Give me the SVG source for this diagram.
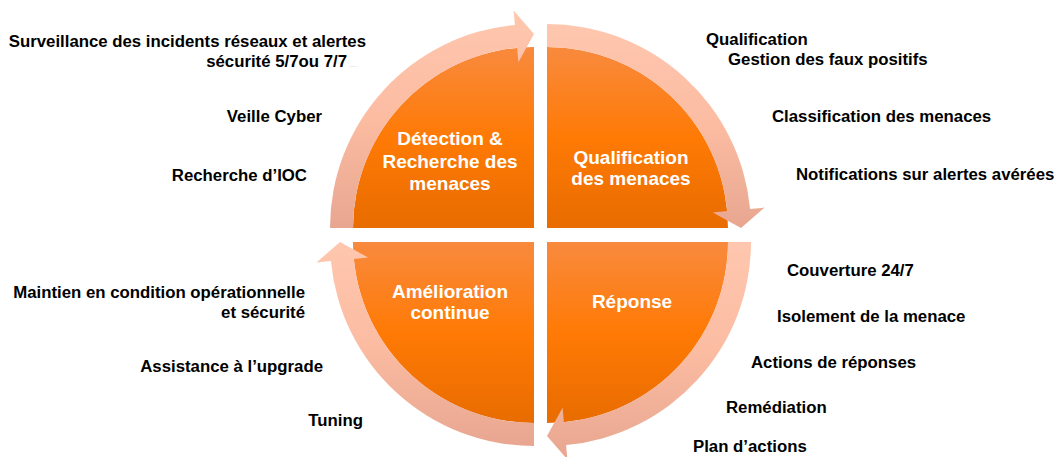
<svg xmlns="http://www.w3.org/2000/svg" width="1054" height="457" viewBox="0 0 1054 457">
  <defs>
    <linearGradient id="gOrange" x1="0" y1="0" x2="0" y2="1">
      <stop offset="0" stop-color="#F88A3E"/>
      <stop offset="0.5" stop-color="#FF7A05"/>
      <stop offset="1" stop-color="#E86C00"/>
    </linearGradient>
    <linearGradient id="gBand" x1="0" y1="0" x2="0" y2="1">
      <stop offset="0" stop-color="#FFC7AF"/>
      <stop offset="0.5" stop-color="#FBBCA2"/>
      <stop offset="1" stop-color="#E8A690"/>
    </linearGradient>
    <style>
      .quad { fill: url(#gOrange); }
      .band { fill: url(#gBand); }
      .qlabel { font-family: "Liberation Sans", Arial, sans-serif; font-weight: bold; font-size: 19px; fill: #FFFFFF; text-anchor: middle; }
      .item { font-family: "Liberation Sans", Arial, sans-serif; font-weight: bold; font-size: 16.8px; fill: #000000; }
      .end { text-anchor: end; }
      .tiny { font-family: "Liberation Sans", Arial, sans-serif; font-size: 7px; fill: #C8C8C8; }
    </style>
  </defs>
  <rect width="1054" height="457" fill="#FFFFFF"/>

  <g id="quadrant-detection">
    <path class="quad" d="M534,228 L353,228 A181,181 0 0 1 534,47 Z"/>
    <text class="qlabel" x="450" y="145">Détection &amp;</text>
    <text class="qlabel" x="450" y="168">Recherche des</text>
    <text class="qlabel" x="450" y="190">menaces</text>
  </g>
  <g id="quadrant-qualification">
    <path class="quad" d="M547,228 L547,47 A181,181 0 0 1 728,228 Z"/>
    <text class="qlabel" x="631" y="164">Qualification</text>
    <text class="qlabel" x="631" y="185">des menaces</text>
  </g>
  <g id="quadrant-reponse">
    <path class="quad" d="M547,242 L728,242 A181,181 0 0 1 547,423 Z"/>
    <text class="qlabel" x="632" y="308">Réponse</text>
  </g>
  <g id="quadrant-amelioration">
    <path class="quad" d="M534,242 L534,423 A181,181 0 0 1 353,242 Z"/>
    <text class="qlabel" x="450" y="298">Amélioration</text>
    <text class="qlabel" x="450" y="319">continue</text>
  </g>

  <g id="connectors">
    <path class="band" d="M330,228 A204,204 0 0 1 514.9,24.9 L513.6,10.5 L534,34 L518.4,62.2 L517.1,47.8 A181,181 0 0 0 353,228 Z"/>
    <path class="band" d="M547,24 A204,204 0 0 1 750.1,208.9 L764.5,207.6 L741,228 L712.8,212.4 L727.2,211.1 A181,181 0 0 0 547,47 Z"/>
    <path class="band" d="M751,242 A204,204 0 0 1 566.1,445.1 L567.4,459.5 L547,436 L562.6,407.8 L563.9,422.2 A181,181 0 0 0 728,242 Z"/>
    <path class="band" d="M534,446 A204,204 0 0 1 330.9,261.1 L316.5,262.4 L340,242 L368.2,257.6 L353.8,258.9 A181,181 0 0 0 534,423 Z"/>
  </g>

  <g id="items-detection">
    <text class="item end" x="366" y="47">Surveillance des incidents réseaux et alertes</text>
    <text class="item end" x="347" y="67">sécurité 5/7ou 7/7</text>
    <text class="tiny" x="349" y="67">....</text>
    <text class="item end" x="322" y="122">Veille Cyber</text>
    <text class="item end" x="307" y="181">Recherche d’IOC</text>
  </g>
  <g id="items-qualification">
    <text class="item" x="706" y="45">Qualification</text>
    <text class="item" x="728" y="65">Gestion des faux positifs</text>
    <text class="item" x="772" y="122">Classification des menaces</text>
    <text class="item" x="796" y="180">Notifications sur alertes avérées</text>
  </g>
  <g id="items-reponse">
    <text class="item" x="787" y="276">Couverture 24/7</text>
    <text class="item" x="777" y="322">Isolement de la menace</text>
    <text class="item" x="751" y="368">Actions de réponses</text>
    <text class="item" x="726" y="413">Remédiation</text>
    <text class="item" x="693" y="452">Plan d’actions</text>
  </g>
  <g id="items-amelioration">
    <text class="item end" x="305" y="298">Maintien en condition opérationnelle</text>
    <text class="item end" x="305" y="318">et sécurité</text>
    <text class="item end" x="323" y="372">Assistance à l’upgrade</text>
    <text class="item end" x="363" y="426">Tuning</text>
  </g>
</svg>
